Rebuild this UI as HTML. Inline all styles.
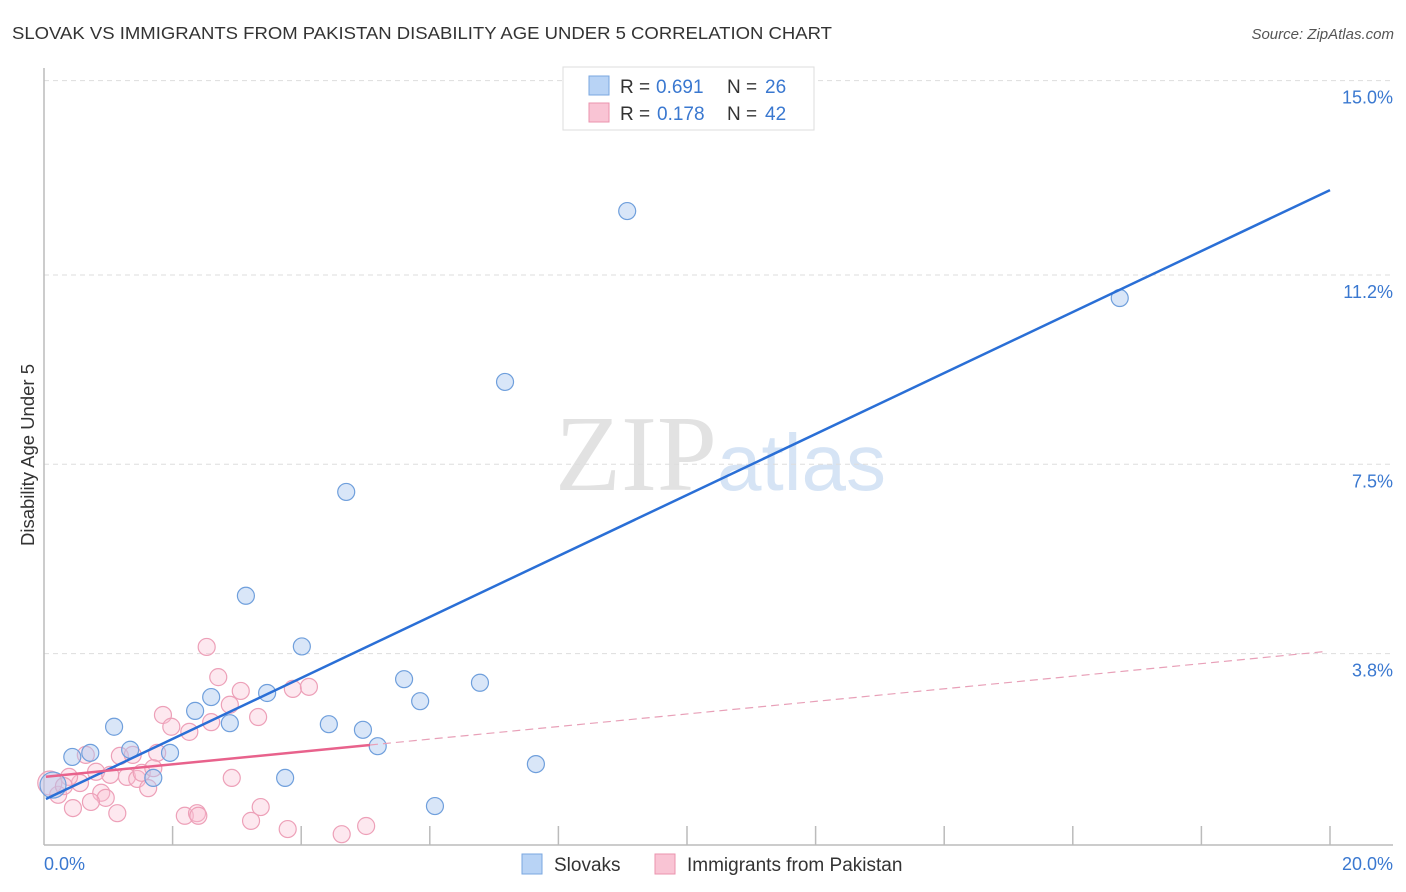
<!DOCTYPE html>
<html><head><meta charset="utf-8"><style>
body{margin:0;background:#fff;font-family:"Liberation Sans",sans-serif;}
svg{display:block}
</style></head><body>
<svg id="chart" width="1406" height="892" viewBox="0 0 1406 892" xmlns="http://www.w3.org/2000/svg">
<text x="12" y="39" font-size="17.5" fill="#333" textLength="820" lengthAdjust="spacingAndGlyphs">SLOVAK VS IMMIGRANTS FROM PAKISTAN DISABILITY AGE UNDER 5 CORRELATION CHART</text>
<text x="1394" y="39" font-size="15" fill="#555" font-style="italic" text-anchor="end">Source: ZipAtlas.com</text>
<text x="555" y="490" font-size="108" font-family="Liberation Serif,serif" fill="#e2e2e2">ZIP<tspan fill="#d6e4f5" font-family="Liberation Sans,sans-serif" font-size="80">atlas</tspan></text>
<text transform="translate(34,455) rotate(-90)" font-size="18.5" fill="#333" text-anchor="middle">Disability Age Under 5</text>
<g id="grid"></g>
<g id="axes"></g>
<g id="marks"></g>
<g id="lines"></g>
<g>
<rect x="563" y="67" width="251" height="63" fill="#fff" stroke="#ddd"/>
<rect x="589" y="76" width="20" height="19" fill="#b8d3f5" stroke="#7aa7e0"/>
<text x="620" y="93" font-size="19" fill="#333">R =</text>
<text x="656" y="93" font-size="19" fill="#3a78d0">0.691</text>
<text x="727" y="93" font-size="19" fill="#333">N =</text>
<text x="765" y="93" font-size="19" fill="#3a78d0">26</text>
<rect x="589" y="103" width="20" height="19" fill="#f9c4d4" stroke="#eb93ae"/>
<text x="620" y="120" font-size="19" fill="#333">R =</text>
<text x="657" y="120" font-size="19" fill="#3a78d0">0.178</text>
<text x="727" y="120" font-size="19" fill="#333">N =</text>
<text x="765" y="120" font-size="19" fill="#3a78d0">42</text>
</g>
<g>
<rect x="522" y="854" width="20" height="20" fill="#b8d3f5" stroke="#7aa7e0"/>
<text x="554" y="871" font-size="19" fill="#333">Slovaks</text>
<rect x="655" y="854" width="20" height="20" fill="#f9c4d4" stroke="#eb93ae"/>
<text x="687" y="871" font-size="19" fill="#333">Immigrants from Pakistan</text>
</g>
</svg>
<script>
const yTicks=[3.8,7.5,11.2,15.0];
const yTickLabels=["3.8%","7.5%","11.2%","15.0%"];
const xTicks=[2,4,6,8,10,12,14,16,18,20];
const slovakX=[9.07,16.73,7.17,4.70,3.14,4.01,1.09,2.60,3.47,2.35,2.89,0.44,0.72,1.34,1.96,1.70,0.14,4.43,4.96,5.19,5.60,5.85,6.78,7.65,3.75,6.08];
const slovakY=[12.45,10.75,9.11,6.96,4.93,3.94,2.37,2.95,3.03,2.68,2.44,1.78,1.86,1.92,1.86,1.37,1.23,2.42,2.31,1.99,3.30,2.87,3.23,1.64,1.37,0.82];
const pakX=[2.53,2.71,3.06,3.87,4.12,2.89,3.33,1.85,1.98,2.26,2.60,0.65,1.18,1.38,1.76,0.81,1.03,1.29,1.45,1.52,1.70,1.62,0.56,0.39,0.22,0.89,0.96,0.73,0.45,1.14,2.92,2.19,2.38,2.40,3.37,3.22,3.79,4.63,5.01,0.09,0.31];
const pakY=[3.93,3.34,3.07,3.11,3.15,2.80,2.56,2.60,2.37,2.27,2.46,1.82,1.80,1.82,1.86,1.49,1.43,1.39,1.35,1.47,1.56,1.17,1.27,1.39,1.04,1.08,0.98,0.90,0.78,0.68,1.37,0.63,0.68,0.63,0.80,0.53,0.37,0.27,0.43,1.27,1.21];
const blueTrend=[0.94,12.86];
const pinkTrend=[1.39,3.85];
const pinkSolidEnd=5.07;
const NS="http://www.w3.org/2000/svg";
const X=v=>44+v*64.3, Y=v=>848-v*51.16;
function mk(tag,attrs,parent){const e=document.createElementNS(NS,tag);for(const k in attrs)e.setAttribute(k,attrs[k]);document.getElementById(parent).appendChild(e);return e;}
yTicks.forEach((t,i)=>{
 const g=mk('line',{x1:44,x2:1393,y1:Y(t),y2:Y(t),stroke:'#ddd','stroke-dasharray':'5,4'},'grid');
 
 
 const l=mk('text',{x:1393,y:Y(t)+23,'font-size':18,fill:'#3a78d0','text-anchor':'end'},'grid');
 l.textContent=yTickLabels[i];
 
 
});
let a=mk('line',{x1:44,x2:44,y1:68,y2:845,stroke:'#bbb','stroke-width':1.5},'axes');


a=mk('line',{x1:44,x2:1393,y1:845,y2:845,stroke:'#bbb','stroke-width':1.5},'axes');


xTicks.forEach(t=>{const e=mk('line',{x1:X(t),x2:X(t),y1:826,y2:845,stroke:'#bbb','stroke-width':1.5},'axes');
 
 });
let t0=mk('text',{x:44,y:870,'font-size':18,fill:'#3a78d0'},'axes');t0.textContent='0.0%';


let t1=mk('text',{x:1393,y:870,'font-size':18,fill:'#3a78d0','text-anchor':'end'},'axes');t1.textContent='20.0%';


pakX.forEach((x,i)=>{const c=mk('circle',{cx:X(x),cy:Y(pakY[i]),r:i==39?12:8.5,fill:'rgba(248,190,208,0.35)',stroke:'#eda0b8','stroke-width':1.2},'marks');
 
 });
slovakX.forEach((x,i)=>{const c=mk('circle',{cx:X(x),cy:Y(slovakY[i]),r:i==16?13:8.5,fill:'rgba(170,200,240,0.45)',stroke:'#6f9fdc','stroke-width':1.2},'marks');
 
 });
const ty=(tr,x)=>tr[0]+(tr[1]-tr[0])*x/20;
let ln=mk('line',{x1:X(0.03),y1:Y(ty(blueTrend,0.03)),x2:X(20),y2:Y(ty(blueTrend,20)),stroke:'#2a6fd6','stroke-width':2.5},'lines');


ln=mk('line',{x1:X(0.03),y1:Y(ty(pinkTrend,0.03)),x2:X(pinkSolidEnd),y2:Y(ty(pinkTrend,pinkSolidEnd)),stroke:'#e8628c','stroke-width':2.5},'lines');


ln=mk('line',{x1:X(pinkSolidEnd),y1:Y(ty(pinkTrend,pinkSolidEnd)),x2:X(19.9),y2:Y(ty(pinkTrend,19.9)),stroke:'#e8a0b8','stroke-width':1.2,'stroke-dasharray':'8,5'},'lines');


</script>
</body></html>
